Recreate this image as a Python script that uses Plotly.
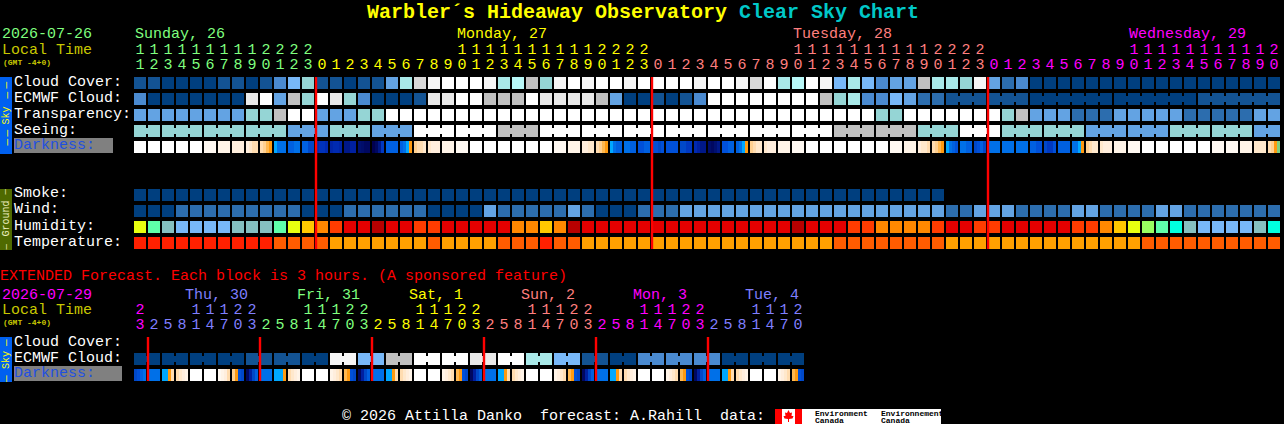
import plotly.graph_objects as go

FONT = "Liberation Mono"
W, H = 1284, 424

# ---------- palette of block colours ----------
PALETTE = ["#003f7f", "#135393", "#2c6dae", "#4a8ad0", "#63a3e3", "#78b8f8", "#95d5d5",
           "#a9e9e9", "#b8f8f8", "#c0c0c0", "#d8d8d8", "#e9e9e9", "#f6f6f6", "#ffffff",
           "#ff2000", "#ff5c00", "#ffa000",
           "#b80000", "#e40000", "#ff3c00", "#ff8800", "#ffc800", "#e8ff10", "#98ff60",
           "#5fffaa", "#00ffe0", "#85c0c0"]

# ---------- hourly forecast ----------
hours = [11, 12, 13, 14, 15, 16, 17, 18, 19, 20, 21, 22, 23,
         0, 1, 2, 3, 4, 5, 6, 7, 8, 9, 10, 11, 12, 13, 14, 15, 16, 17, 18, 19, 20, 21, 22, 23,
         0, 1, 2, 3, 4, 5, 6, 7, 8, 9, 10, 11, 12, 13, 14, 15, 16, 17, 18, 19, 20, 21, 22, 23,
         0, 1, 2, 3, 4, 5, 6, 7, 8, 9, 10, 11, 12, 13, 14, 15, 16, 17, 18, 19, 20]
day_colors = ["#7fff7f", "#ffff00", "#ff7f7f", "#ff00ff"]
day_names = ["Sunday, 26", "Monday, 27", "Tuesday, 28", "Wednesday, 29"]
day_label_cols = [0, 23, 47, 71]
midnights = [13, 37, 61]

cloud_cover = [1, 1, 0, 0, 0, 0, 1, 1, 0, 1, 3, 5, 6, 1, 1, 0, 1, 1, 4, 7, 10,
               12, 13, 13, 13, 12, 7, 8, 9, 6, 12, 13, 12, 13, 13, 12, 13, 13, 13, 13, 12,
               13, 13, 12, 10, 13, 7, 8, 13, 12, 5, 7, 5, 3, 4, 4, 9, 7, 7, 6, 12, 4, 2, 3,
               0, 0, 0, 0, 0, 0, 0, 0, 0, 0, 0, 0, 0, 0, 0, 0, 0, 0]
ecmwf_cloud = [3, 0, 0, 0, 0, 0, 0, 0, 11, 13, 4, 9, 6, 13, 11, 6, 3, 0, 0, 0, 1,
               11, 11, 13, 13, 9, 9, 9, 13, 11, 11, 11, 11, 9, 4, 0, 0, 1, 0, 1, 3,
               13, 13, 13, 13, 13, 13, 13, 13, 9, 6, 7, 3, 3, 5, 4, 2, 2,
               1, 1, 1, 1, 1, 1, 0, 0, 0, 0, 0, 0, 0, 0, 0, 0, 0, 0, 1, 1, 1, 1, 1, 1]
ecmwf_joined = [58, 59, 61, 62, 64, 65, 66, 67, 68, 70, 71, 72, 73, 74, 76, 77, 78, 79, 80]
transparency = [4, 4, 4, 4, 4, 4, 4, 4, 6, 6, 9, 13, 13, 4, 4, 4, 6, 6,
                13, 13, 13, 13, 13, 13, 13, 13, 13, 13, 13, 13, 13, 13, 13, 13, 13, 13, 13,
                13, 13, 13, 13, 13, 13, 13, 13, 13, 13, 13, 13, 13, 13, 13, 13,
                6, 6, 13, 13, 13, 13, 13, 13, 13, 6, 9, 4, 4, 4, 2, 2, 2,
                4, 4, 4, 4, 4, 2, 2, 2, 2, 2, 4, 4]
seeing = [6, 6, 6, 6, 6, 6, 6, 6, 6, 6, 6, 4, 4, 4, 6, 6, 6, 4, 4, 4,
          13, 13, 13, 13, 13, 13, 9, 9, 9, 13, 13, 13, 13, 13, 13, 13, 13, 13, 13, 13, 13,
          13, 13, 13, 13, 13, 13, 13, 13, 13, 9, 9, 9, 9, 9, 9, 6, 6, 6, 13, 13, 13,
          6, 6, 6, 6, 6, 6, 4, 4, 4, 4, 4, 4, 6, 6, 6, 6, 6, 6, 4, 4]
seeing_joined = [c for c in range(81) if c % 3 != 1]
smoke = [0] * 58 + [None] * 24
wind = [0, 0, 0, 2, 2, 2, 2, 2, 2, 2, 2, 2, 0, 0, 0, 2, 2, 2, 2, 2, 2,
        0, 0, 0, 0, 4, 2, 2, 2, 2, 2, 4, 2, 0, 0, 0, 2, 2, 2,
        4, 4, 4, 4, 4, 4, 4, 4, 4, 4, 4, 4, 4, 4, 4, 4, 4, 4, 4,
        2, 2, 4, 4, 4, 2, 2, 2, 2, 4, 4, 2, 2, 2, 2, 4, 4, 2, 2, 2, 2, 2, 2, 2]
humidity = [22, 24, 26, 5, 5, 5, 5, 26, 26, 26, 24, 22, 21, 20, 19, 18, 18, 17, 18, 18, 19,
            19, 18, 18, 18, 18, 18, 20, 20, 21, 20, 17, 18, 18, 18, 18, 18, 18, 18, 18, 18,
            18, 18, 18, 18, 18, 18, 17, 18, 18, 18, 19, 19, 20, 20, 20, 20, 19, 18, 18, 19,
            19, 18, 18, 18, 18, 18, 19, 19, 20, 21, 22, 23, 24, 25, 26, 5, 5, 5, 5, 26, 25]
temperature = [14, 14, 14, 14, 14, 14, 14, 14, 14, 14, 15, 15, 15, 15, 16, 16, 16, 16, 16, 16, 16,
               15, 16, 16, 16, 16, 15, 15, 15, 14, 15, 15,
               16, 16, 16, 16, 16, 16, 16, 16, 16, 16, 16, 16, 16, 16, 16, 16, 16, 16,
               15, 15, 15, 15, 15, 15, 15, 15,
               16, 16, 16, 16, 16, 16, 16, 16, 16, 16, 16, 16, 16, 16, 15, 15, 15, 15, 15, 15, 15, 15, 15, 15]

# Darkness: four readings across every block
DARK_STOPS = [(0, "#ffffff"), (.05, "#fff9f2"), (.1, "#fff4e8"), (.15, "#ffeedd"), (.2, "#ffe8cc"),
              (.25, "#ffdcb0"), (.3, "#ffd090"), (.35, "#ffb850"), (.39, "#ff9a10"), (.405, "#ff9a10"),
              (.41, "#00a8ff"), (.45, "#0088f0"), (.5, "#0070e8"), (.55, "#0060e0"), (.6, "#0050d8"),
              (.65, "#0048c8"), (.7, "#0038c0"), (.75, "#002ab0"), (.8, "#0020a0"), (.85, "#001888"),
              (.9, "#001070"), (.95, "#000860"), (1.0, "#000050"), (1.09, "#000050"), (1.1, "#80d080")]
N = (0, 0, 0, 0)
darkness = [N, N, N, N, N, (.05,) * 4, (.1,) * 4, (.15,) * 4, (.15, .2, .25, .25), (.25, .3, .35, .39),
            (.41, .5, .5, .5), (.55, .55, .5, .5), (.55, .55, .65, .65), (.75, .72, .72, .75), (.78, .75, .75, .78),
            (.85, .85, .8, .8), (.9, .92, .95, .95), (1.0, .95, .85, .7), (.55,) * 4, (.55, .5, .41, .39),
            (.3, .25, .25, .2), (.2, .15, .15, .15), (.1,) * 4, (.05,) * 4, N, N, N, N, N, N,
            (.05,) * 4, (.1,) * 4, (.15, .15, .2, .2), (.25, .3, .35, .39), (.41, .5, .55, .55), (.5, .5, .55, .55),
            (.6, .6, .55, .55), (.6, .6, .65, .6), (.6,) * 4, (.65, .65, .7, .7), (.75, .8, .85, .85), (.92, .95, .9, .85),
            (.6, .6, .55, .55), (.55, .5, .41, .39), (.3, .25, .2, .2), (.2, .15, .15, .15), (.1,) * 4, (.05,) * 4,
            N, N, N, N, N, N, (.05,) * 4, (.1,) * 4, (.15, .2, .2, .25), (.25, .3, .35, .39),
            (.41, .5, .55, .6), (.5, .5, .55, .55), (.65, .6, .55, .65), (.5,) * 4, (.5,) * 4, (.5,) * 4,
            (.55, .55, .6, .6), (.65, .7, .7, .6), (.55,) * 4, (.5, .5, .41, .39), (.3, .25, .2, .2),
            (.2, .15, .15, .15), (.1,) * 4, (.05,) * 4, N, N, N, N, N, (.05,) * 4, (.05,) * 4, (.1,) * 4,
            (.2,) * 4, (.25, .3, .39, 1.1)]

# ---------- extended forecast (3-hour blocks) ----------
ext_hours = [23] + [2, 5, 8, 11, 14, 17, 20, 23] * 5 + [2, 5, 8, 11, 14, 17, 20]
ext_day_colors = ["#ff00ff", "#7f7fff", "#7fff7f", "#ffff00", "#ff7f7f", "#ff00ff", "#7f7fff"]
ext_day_names = ["Thu, 30", "Fri, 31", "Sat, 1", "Sun, 2", "Mon, 3", "Tue, 4"]
ext_label_cols = [4, 12, 20, 28, 36, 44]
ext_midnights = [1, 9, 17, 25, 33, 41]
ext_ecmwf = [0, 0, 0, 0, 0, 0, 0, 0, 1, 1, 1, 1, 0, 0, 12, 12, 5, 5, 9, 9, 13, 13, 13, 13,
             11, 11, 13, 13, 7, 7, 5, 5, 1, 1, 0, 0, 3, 3, 3, 3, 3, 3, 0, 0, 0, 0, 0, 0]
ext_joined = list(range(0, 47, 2))
ext_darkness = [(.65, .6, .55, .5), (.5,) * 4, (.41, .41, .39, .25), (.25, .2, .15, .1), N, N,
                (.05, .1, .15, .25), (.3, .39, .6, .65),
                (.95, .8, .65, .55), (.5,) * 4, (.41, .41, .41, .39), (.25, .2, .15, .1), N, N,
                (.1, .15, .2, .25), (.35, .39, .6, .65),
                (.95, .8, .65, .55), (.5,) * 4, (.41, .41, .39, .25), (.25, .2, .15, .1), N, N,
                (.1, .15, .2, .25), (.35, .39, .6, .65),
                (.95, .8, .65, .55), (.5,) * 4, (.41, .41, .39, .25), (.25, .2, .15, .1), N, N,
                (.1, .15, .2, .25), (.35, .39, .6, .65),
                (.95, .8, .65, .55), (.5,) * 4, (.41, .41, .39, .25), (.25, .2, .15, .1), N, N,
                (.1, .15, .2, .25), (.35, .39, .6, .65),
                (.95, .8, .65, .55), (.5,) * 4, (.41, .41, .39, .25), (.25, .2, .15, .1), N, N,
                (.1, .15, .2, .25), (.35, .39, .6, .65)]

sky_labels = ["Cloud Cover:", "ECMWF Cloud:", "Transparency:", "Seeing:"]
ground_labels = ["Smoke:", "Wind:", "Humidity:", "Temperature:"]
ext_labels = ["Cloud Cover:", "ECMWF Cloud:"]

# ---------- scales: column units across, row units down ----------
def row(py):
    return (py - 83) / 16

n_pal = len(PALETTE)
pal_scale = []
for i, c in enumerate(PALETTE):
    pal_scale += [[i / n_pal, c], [(i + 1) / n_pal, c]]
dark_scale = [[v / 1.1, c] for v, c in DARK_STOPS]
EDGE = 6 / 14

fig = go.Figure()


def grid(rows, ys):
    fig.add_trace(go.Heatmap(z=rows, x=list(range(len(rows[0]))), y=ys, xgap=2, ygap=4,
                             zmin=-.5, zmax=n_pal - .5, colorscale=pal_scale, showscale=False,
                             hoverinfo="skip"))


def dark_row(cells, r):
    xs, zs = [], []
    for c, samples in enumerate(cells):
        for k, v in enumerate(samples):
            xs.append(c - EDGE + k * 3 / 14)
            zs.append(v)
        xs.append(c + EDGE)
        zs.append(None)
    xs.append(len(cells) + 1 - EDGE)
    fig.add_trace(go.Heatmap(z=[zs], x=xs, y=[r - 6 / 16, r + 6 / 16], zmin=0, zmax=1.1,
                             colorscale=dark_scale, showscale=False, hoverinfo="skip"))


def necks(values, joined, r):
    fig.add_trace(go.Scatter(x=[c + .5 for c in joined], y=[r] * len(joined), mode="markers",
                             marker=dict(symbol="square", size=6, line_width=0,
                                         color=[PALETTE[values[c]] for c in joined]),
                             hoverinfo="skip"))


def digits(hrs, colors, tens_y, unit_y):
    cols, prev, d = [], None, 0
    for h in hrs:
        if prev is not None and h < prev:
            d += 1
        cols.append(colors[d])
        prev = h
    xt = [c for c, h in enumerate(hrs) if h >= 10]
    fig.add_trace(go.Scatter(x=xt, y=[row(tens_y)] * len(xt), mode="text",
                             text=[str(hrs[c] // 10) for c in xt],
                             textfont=dict(family=FONT, size=15, color=[cols[c] for c in xt]),
                             hoverinfo="skip"))
    fig.add_trace(go.Scatter(x=list(range(len(hrs))), y=[row(unit_y)] * len(hrs), mode="text",
                             text=[str(h % 10) for h in hrs],
                             textfont=dict(family=FONT, size=15, color=cols), hoverinfo="skip"))


def red_lines(mids, top, bottom):
    xs, ys = [], []
    for m in mids:
        xs += [m - EDGE, m - EDGE, None]
        ys += [row(top), row(bottom), None]
    fig.add_trace(go.Scatter(x=xs, y=ys, mode="lines", line=dict(color="#ff0000", width=2.4),
                             hoverinfo="skip"))


grid([cloud_cover, ecmwf_cloud, transparency, seeing], [0, 1, 2, 3])
dark_row(darkness, 4)
grid([smoke, wind, humidity, temperature], [7, 8, 9, 10])
necks(ecmwf_cloud, ecmwf_joined, 1)
necks(seeing, seeing_joined, 3)

fig.add_trace(go.Heatmap(z=[ext_ecmwf], x=list(range(48)), y=[row(353), row(365)], xgap=2,
                         zmin=-.5, zmax=n_pal - .5, colorscale=pal_scale, showscale=False,
                         hoverinfo="skip"))
necks(ext_ecmwf, ext_joined, row(359))
dark_row(ext_darkness, row(375))

digits(hours, day_colors, 50, 65)
digits(ext_hours, ext_day_colors, 310, 325)
red_lines(midnights, 77, 249)
red_lines(ext_midnights, 337, 381)

# ---------- text and furniture ----------
ann, shapes = [], []


def text(px, py, s, color, size=15, bold=False, angle=0, anchor="left"):
    ann.append(dict(x=px / W, y=1 - py / H, xref="paper", yref="paper", text=("<b>%s</b>" % s) if bold else s,
                    showarrow=False, xanchor=anchor, yanchor="middle", borderpad=0, borderwidth=0,
                    font=dict(family=FONT, size=size, color=color), textangle=angle, align="left"))


def rect(x0, y0, x1, y1, color):
    shapes.append(dict(type="rect", xref="paper", yref="paper", x0=x0 / W, x1=x1 / W, y0=1 - y0 / H, y1=1 - y1 / H,
                       fillcolor=color, line_width=0, layer="below"))


rect(0, 77, 12, 154, "#0060f0")
rect(0, 189, 12, 250, "#4f6a00")
rect(0, 337, 12, 382, "#0060f0")
rect(14, 138, 113, 153, "#808080")
rect(14, 366, 122, 381, "#808080")
rect(775, 409, 941, 424, "#ffffff")
rect(775, 409, 782, 424, "#ff0000")
rect(795, 409, 802, 424, "#ff0000")
leaf = [(788.5, 410), (790, 413), (792, 412.5), (791.5, 416), (793.5, 416), (792.5, 418.5),
        (789, 419), (789, 422), (788, 422), (788, 419), (784.5, 418.5), (783.5, 416),
        (785.5, 416), (785, 412.5), (787, 413)]
shapes.append(dict(type="path", xref="paper", yref="paper", fillcolor="#ff0000", line_width=0,
                   path="M" + "L".join("%.5f,%.5f" % (x / W, 1 - y / H) for x, y in leaf) + "Z"))

ann.append(dict(x=366 / W, y=1 - 12.5 / H, xref="paper", yref="paper", showarrow=False, xanchor="left",
                yanchor="middle", borderpad=0,
                font=dict(family=FONT, size=20, color="#ffff00"),
                text="<b>Warbler´s Hideaway Observatory <span style='color:#00c8c8'>Clear Sky Chart</span></b>"))

text(2, 35, "2026-07-26", "#7fff7f")
text(2, 50, "Local Time", "#c8c800")
text(3, 62, "(GMT -4+0)", "#c8c800", size=8, bold=True)
for name, col, c in zip(day_names, day_colors, day_label_cols):
    text(135 + 14 * c, 35, name, col)
for i, s in enumerate(sky_labels):
    text(14, 82 + 16 * i, s, "#ffffff")
text(14, 145.5, "Darkness:", "#1f50e0")
for i, s in enumerate(ground_labels):
    text(14, 194 + 16 * i, s, "#ffffff")

text(0, 276, "EXTENDED Forecast. Each block is 3 hours. (A sponsored feature)", "#ff0000")
text(2, 295, "2026-07-29", "#ff00ff")
text(2, 310, "Local Time", "#c8c800")
text(3, 322, "(GMT -4+0)", "#c8c800", size=8, bold=True)
for name, col, c in zip(ext_day_names, ext_day_colors[1:], ext_label_cols):
    text(129 + 14 * c, 295, name, col)
for i, s in enumerate(ext_labels):
    text(14, 342 + 16 * i, s, "#ffffff")
text(14, 373.5, "Darkness:", "#1f50e0")

text(6, 115.5, "Sky", "#ffff00", size=10, angle=-90, anchor="center")
text(6, 218.5, "Ground", "#f0f0c0", size=10, angle=-90, anchor="center")
text(6, 360, "Sky", "#ffff00", size=10, angle=-90, anchor="center")
for py in (85.5, 95.5, 133.5, 142.5, 343, 379):
    text(6, py, "—", "#ffff00", size=11, angle=-90, anchor="center")
for py in (191.5, 246.5):
    text(6, py, "—", "#f0f0c0", size=9, angle=-90, anchor="center")

text(342, 416, "© 2026 Attilla Danko  forecast: A.Rahill  data:", "#ffffff")
text(815, 413.5, "Environment", "#000000", size=8, bold=True)
text(815, 420, "Canada", "#000000", size=8, bold=True)
text(881, 413.5, "Environnement", "#000000", size=8, bold=True)
text(881, 420, "Canada", "#000000", size=8, bold=True)

fig.update_layout(
    width=W, height=H, margin=dict(l=0, r=0, t=0, b=0), autosize=False,
    paper_bgcolor="#000000", plot_bgcolor="#000000", showlegend=False, hovermode=False,
    annotations=ann, shapes=shapes,
    xaxis=dict(range=[-10, (W - 140) / 14], visible=False, fixedrange=True),
    yaxis=dict(range=[row(H), row(0)], visible=False, fixedrange=True),
)
fig.write_html("out.html", config=dict(displayModeBar=False),
               post_script="document.body.style.margin='0';document.body.style.background='#000';"
                           "document.documentElement.style.overflow='hidden';")
